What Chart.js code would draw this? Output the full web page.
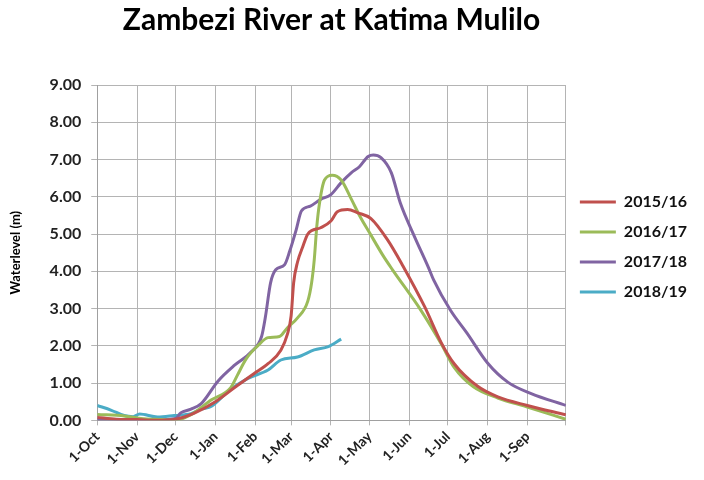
<!DOCTYPE html>
<html>
<head>
<meta charset="utf-8">
<script src="https://cdn.jsdelivr.net/npm/chart.js@4.4.0/dist/chart.umd.min.js"></script>
<style>
  html, body { margin: 0; padding: 0; background: #fff; }
  #wrap { width: 704px; height: 480px; }
</style>
</head>
<body>
<div id="wrap"><canvas id="levels"></canvas></div>
<script>
// days counted from 1 October
const tickDays = [0, 31, 61, 92, 123, 151, 182, 212, 243, 273, 304, 335, 365];
const tickLabels = ['1-Oct', '1-Nov', '1-Dec', '1-Jan', '1-Feb', '1-Mar', '1-Apr',
                    '1-May', '1-Jun', '1-Jul', '1-Aug', '1-Sep', ''];

const days1516 = [0, 15, 31, 46, 61, 76, 92, 107, 122, 133, 143, 148, 151, 153, 156, 160, 164, 174, 182, 187, 195, 203, 213, 226, 238, 255, 268, 278, 296, 312, 335, 365];
const level1516 = [0.08, 0.03, 0.02, 0.0, 0.03, 0.2, 0.5, 0.88, 1.25, 1.52, 1.88, 2.3, 2.8, 3.7, 4.25, 4.65, 5.0, 5.17, 5.35, 5.6, 5.66, 5.57, 5.42, 4.85, 4.15, 3.05, 2.08, 1.52, 0.92, 0.63, 0.4, 0.15];

const days1617 = [0, 21, 34, 50, 61, 73, 89, 104, 109, 116, 125, 133, 142, 148, 156, 164, 167, 169, 171, 173, 177, 183, 190, 198, 205, 212, 223, 230, 252, 268, 278, 293, 312, 335, 365];
const level1617 = [0.16, 0.12, 0.05, 0.02, 0.0, 0.15, 0.55, 0.88, 1.2, 1.65, 2.0, 2.22, 2.25, 2.48, 2.75, 3.2, 3.7, 4.3, 5.2, 5.8, 6.45, 6.58, 6.45, 5.93, 5.45, 5.04, 4.4, 4.04, 2.96, 2.05, 1.42, 0.9, 0.6, 0.36, 0.03];

const days1718 = [0, 20, 40, 61, 65, 73, 81, 94, 107, 120, 128, 131, 135, 139, 146, 150, 155, 159, 166, 174, 182, 190, 198, 204, 211, 215, 221, 229, 236, 247, 258, 262, 275, 288, 304, 320, 338, 365];
const level1718 = [0.02, 0.0, 0.0, 0.05, 0.2, 0.3, 0.45, 1.05, 1.48, 1.84, 2.25, 2.78, 3.69, 4.04, 4.18, 4.55, 5.12, 5.62, 5.75, 5.93, 6.06, 6.38, 6.65, 6.8, 7.08, 7.12, 7.05, 6.65, 5.84, 4.94, 4.1, 3.77, 2.96, 2.34, 1.54, 1.02, 0.72, 0.4];

const days1819 = [0, 11, 21, 28, 33, 47, 60, 73, 81, 89, 102, 117, 133, 143, 156, 169, 180, 190];
const level1819 = [0.4, 0.27, 0.13, 0.1, 0.17, 0.09, 0.13, 0.18, 0.3, 0.38, 0.78, 1.12, 1.35, 1.62, 1.7, 1.89, 1.98, 2.18];

function pairs(days, vals) {
    return days.map((d, i) => ({ x: d, y: vals[i] }));
}

function series(label, days, vals, color) {
    return {
        label: label,
        data: pairs(days, vals),
        borderColor: color,
        backgroundColor: color,
        borderWidth: 3,
        pointRadius: 0,
        fill: false,
        cubicInterpolationMode: 'monotone'
    };
}

const bold = (size) => ({ family: 'Lato, "Open Sans", sans-serif', weight: 'bold', size: size });

const ctx = document.getElementById('levels');

const levelChart = new Chart(ctx, {
    type: 'line',
    data: {
        datasets: [
            series('2015/16', days1516, level1516, '#C0504D'),
            series('2016/17', days1617, level1617, '#9BBB59'),
            series('2017/18', days1718, level1718, '#8064A2'),
            series('2018/19', days1819, level1819, '#4BACC6')
        ]
    },
    options: {
        responsive: true,
        maintainAspectRatio: false,
        animation: false,
        layout: { padding: { left: 8, right: 7, top: 0, bottom: 8 } },
        plugins: {
            title: {
                display: true,
                text: 'Zambezi River at Katima Mulilo',
                fullSize: false,
                color: '#000',
                font: bold(30),
                padding: { top: 2, bottom: 47 }
            },
            legend: {
                position: 'right',
                fullSize: true,
                // empty title only pushes the entries down a little
                title: { display: true, text: '', font: { size: 10 }, padding: 5 },
                labels: {
                    usePointStyle: true,
                    pointStyle: 'line',
                    pointStyleWidth: 36,
                    boxHeight: 16,
                    padding: 14,
                    color: '#111',
                    font: bold(16)
                }
            },
            tooltip: { enabled: false }
        },
        scales: {
            x: {
                type: 'linear',
                min: 0,
                max: 365,
                afterBuildTicks: (axis) => {
                    axis.ticks = tickDays.map(v => ({ value: v }));
                },
                ticks: {
                    autoSkip: false,
                    minRotation: 45,
                    maxRotation: 45,
                    color: '#222',
                    font: bold(14),
                    callback: (v, i) => tickLabels[i]
                },
                grid: { color: '#b4b4b4', tickLength: 5 },
                border: { color: '#a0a0a0' }
            },
            y: {
                min: 0,
                max: 9,
                ticks: {
                    stepSize: 1,
                    color: '#222',
                    font: bold(16),
                    padding: 10,
                    callback: (v) => v.toFixed(2)
                },
                grid: { color: '#b4b4b4', tickLength: 6 },
                border: { color: '#a0a0a0' },
                title: {
                    display: true,
                    text: 'Waterlevel (m)',
                    color: '#000',
                    font: bold(13),
                    padding: { top: 0, bottom: 16 }
                }
            }
        }
    }
});
</script>
</body>
</html>
